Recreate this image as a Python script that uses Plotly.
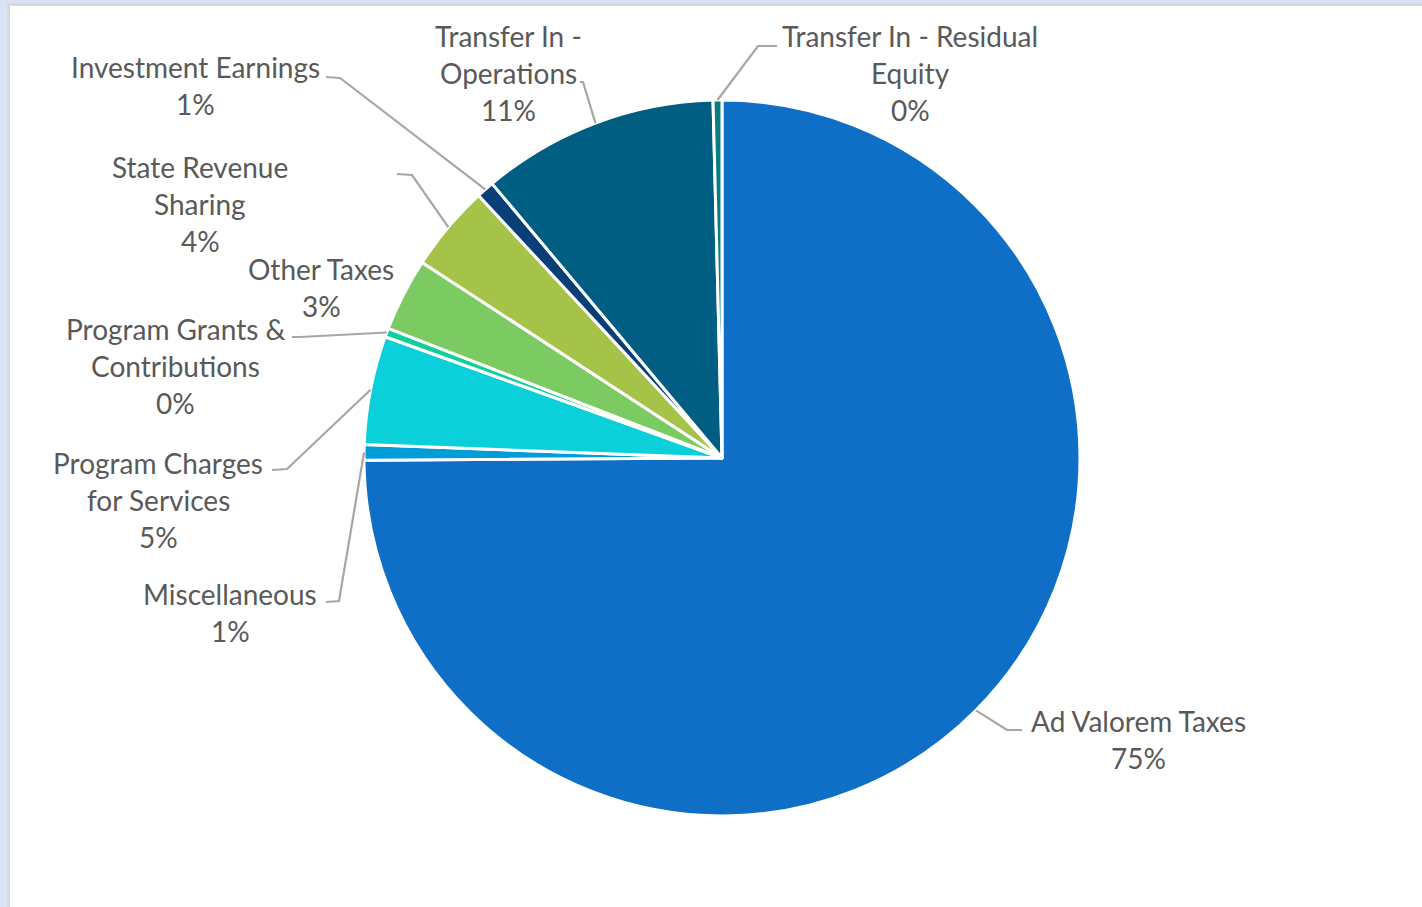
import math
import plotly.graph_objects as go

# ---- data ----
categories = ["Ad Valorem Taxes", "Miscellaneous", "Program Charges for Services",
              "Program Grants & Contributions", "Other Taxes", "State Revenue Sharing",
              "Investment Earnings", "Transfer In - Operations", "Transfer In - Residual Equity"]
values = [74.9, 0.7, 4.9, 0.4, 3.3, 3.9, 0.8, 10.7, 0.4]
label_lines = [["Ad Valorem Taxes"], ["Miscellaneous"], ["Program Charges", "for Services"],
               ["Program Grants &", "Contributions"], ["Other Taxes"], ["State Revenue", "Sharing"],
               ["Investment Earnings"], ["Transfer In -", "Operations"], ["Transfer In - Residual", "Equity"]]
colors = ["#0F6FC6", "#009DD9", "#0BD0D9", "#10CF9B", "#7CCA62", "#A5C249",
          "#093F77", "#005E82", "#077D82"]

# ---- layout (pixels) ----
W, H = 1422, 907
CX, CY, R = 722, 458, 358
# label block: centre x, first-line centre y
label_pos = [(1138, 721), (230, 594), (158, 463), (175, 329), (321, 269),
             (200, 167), (195, 67), (509, 36), (910, 36)]
# leader lines: elbow point, end point (None = no leader)
leaders = [((1007, 730), (1022, 730)), ((339, 601), (326, 602)), ((287, 469), (272, 470)),
           ((300, 337), (292, 337)), None, ((412, 175), (397, 174)),
           ((340, 78), (326, 77)), ((583, 82), (580, 82)), ((758, 46), (777, 46))]
LINE_H = 37


def px(x):
    return x / W


def py(y):
    return 1 - y / H


fig = go.Figure()
fig.add_trace(go.Pie(
    labels=categories, values=values, sort=False, direction="clockwise", rotation=0,
    marker=dict(colors=colors, line=dict(color="white", width=3)),
    textinfo="none", hoverinfo="label+percent", showlegend=False,
    domain=dict(x=[px(CX - R), px(CX + R)], y=[py(CY + R), py(CY - R)]),
))

shapes = []
# window frame
shapes.append(dict(type="rect", xref="paper", yref="paper", x0=0, x1=1, y0=py(3), y1=1,
                   fillcolor="#DAE3F3", line=dict(width=0), layer="above"))
shapes.append(dict(type="rect", xref="paper", yref="paper", x0=0, x1=px(7), y0=0, y1=1,
                   fillcolor="#DAE3F3", line=dict(width=0), layer="above"))
shapes.append(dict(type="rect", xref="paper", yref="paper", x0=px(7), x1=1, y0=py(6), y1=py(3),
                   fillcolor="#D9D9D9", line=dict(width=0), layer="above"))
shapes.append(dict(type="rect", xref="paper", yref="paper", x0=px(7), x1=px(10), y0=0, y1=py(3),
                   fillcolor="#D9D9D9", line=dict(width=0), layer="above"))

annotations = []
total = sum(values)
cum = 0.0
for i, v in enumerate(values):
    mid = (cum + v / 2) / total * 2 * math.pi
    cum += v
    ex, ey = CX + R * math.sin(mid), CY - R * math.cos(mid)
    if leaders[i] is not None:
        (bx, by), (tx, ty) = leaders[i]
        path = f"M {px(ex)} {py(ey)} L {px(bx)} {py(by)} L {px(tx)} {py(ty)}"
        shapes.append(dict(type="path", xref="paper", yref="paper", path=path,
                           line=dict(color="#A6A6A6", width=2.2), layer="above"))
    lx, ly = label_pos[i]
    lines = label_lines[i] + [f"{round(v / total * 100)}%"]
    for k, t in enumerate(lines):
        annotations.append(dict(x=px(lx), y=py(ly + k * LINE_H), xref="paper", yref="paper",
                                text=t, showarrow=False, xanchor="center", yanchor="middle",
                                font=dict(family="Lato", size=28, color="#595959")))

fig.update_layout(width=W, height=H, margin=dict(l=0, r=0, t=0, b=0),
                  paper_bgcolor="white", plot_bgcolor="white",
                  shapes=shapes, annotations=annotations)
fig.write_html("out.html")
